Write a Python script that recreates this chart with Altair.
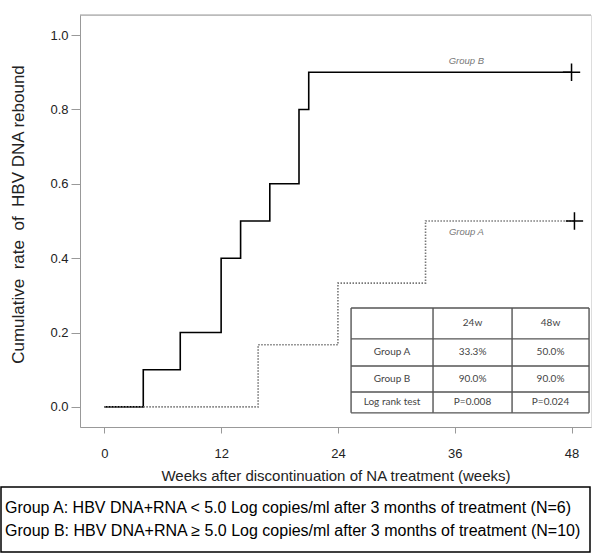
import altair as alt
import pandas as pd

# ---- data ----
weeks_B = [0, 4, 7.8, 12, 14, 17, 20, 21, 48]
rate_B = [0, 0.1, 0.2, 0.4, 0.5, 0.6, 0.8, 0.9, 0.9]
weeks_A = [0, 15.8, 24, 33, 48.3]
rate_A = [0, 0.167, 0.333, 0.5, 0.5]

cens_weeks = [48, 48.3]
cens_rate = [0.9, 0.5]

curve_label_text = ["Group B", "Group A"]
curve_label_week = [37.2, 37.2]
curve_label_rate = [0.93, 0.47]

x_ticks = [0, 12, 24, 36, 48]
y_ticks = [0.0, 0.2, 0.4, 0.6, 0.8, 1.0]

# summary table (in data units of the plot)
table_col_edges = [25.35, 33.77, 41.89, 49.8]
table_row_edges = [0.266, 0.183, 0.110, 0.040, -0.016]
table_col_centers = [29.56, 37.83, 45.84]
table_row_centers = [0.2246, 0.1466, 0.0753, 0.0121]
table_cells = [
    ["", "24w", "48w"],
    ["Group A", "33.3%", "50.0%"],
    ["Group B", "90.0%", "90.0%"],
    ["Log rank test", "P=0.008", "P=0.024"],
]

legend_lines = [
    "Group A: HBV DNA+RNA < 5.0 Log copies/ml after 3 months of treatment (N=6)",
    "Group B: HBV DNA+RNA \u2265 5.0 Log copies/ml after 3 months of treatment (N=10)",
]

x_domain = [-2.5, 50]
y_domain = [-0.054, 1.054]

FONT = "Liberation Sans"
W, H = 511, 412
NB = "\u00a0"

# ---- build tables ----
dfB = pd.DataFrame({"week": weeks_B, "rate": rate_B})
dfA = pd.DataFrame({"week": weeks_A, "rate": rate_A})
dfC = pd.DataFrame({"week": cens_weeks, "rate": cens_rate})
dfL = pd.DataFrame({"week": curve_label_week, "rate": curve_label_rate, "t": curve_label_text})

vlines = pd.DataFrame({"week": table_col_edges, "rate": [table_row_edges[0]] * len(table_col_edges),
                       "rate2": [table_row_edges[-1]] * len(table_col_edges)})
hlines = pd.DataFrame({"rate": table_row_edges, "week": [table_col_edges[0]] * len(table_row_edges),
                       "week2": [table_col_edges[-1]] * len(table_row_edges)})
cells = []
for r, row in enumerate(table_cells):
    for c, txt in enumerate(row):
        cells.append({"week": table_col_centers[c], "rate": table_row_centers[r], "t": txt})
dfCells = pd.DataFrame(cells)

xs = alt.Scale(domain=x_domain, nice=False, zero=False)
ys = alt.Scale(domain=y_domain, nice=False, zero=False)

x_axis = alt.Axis(
    values=x_ticks, format="d", grid=False, tickSize=6, labelPadding=14,
    labelFontSize=13, labelFont=FONT, labelColor="#222",
    title="Weeks after discontinuation of NA treatment (weeks)",
    titleFont=FONT, titleFontSize=15, titleFontWeight="normal", titleColor="#222",
    titleY=48, titleBaseline="middle",
    domainColor="#999", tickColor="#999",
)
y_axis = alt.Axis(
    values=y_ticks, format=".1f", grid=False, tickSize=9, labelPadding=3,
    labelFontSize=13, labelFont=FONT, labelColor="#222",
    title=f"Cumulative{NB}{NB}rate{NB}{NB}of{NB}{NB}HBV DNA rebound",
    titleFont=FONT, titleFontSize=17, titleFontWeight="normal", titleColor="#222",
    titleX=-62, titleY=199, titleAngle=-90, titleBaseline="middle", titleAlign="center",
    domainColor="#999", tickColor="#999",
)

X = alt.X("week:Q", scale=xs, axis=x_axis)
Y = alt.Y("rate:Q", scale=ys, axis=y_axis)

lineB = alt.Chart(dfB).mark_line(interpolate="step-after", color="black", strokeWidth=1.6).encode(x=X, y=Y)
lineA = alt.Chart(dfA).mark_line(interpolate="step-after", color="#777", strokeWidth=1.6,
                                 strokeDash=[1.5, 1.5]).encode(x=X, y=Y)
cens = alt.Chart(dfC).mark_point(shape="M-1,0L1,0M0,-1L0,1", size=300, filled=False,
                                 color="black", strokeWidth=1.5, opacity=1).encode(x=X, y=Y)
labels = alt.Chart(dfL).mark_text(font=FONT, fontSize=9.5, color="#777", fontStyle="italic").encode(
    x=X, y=Y, text="t:N")

tab_v = alt.Chart(vlines).mark_rule(color="#555", strokeWidth=1.4).encode(x=X, y=Y, y2="rate2:Q")
tab_h = alt.Chart(hlines).mark_rule(color="#555", strokeWidth=1.4).encode(y=Y, x=X, x2="week2:Q")
tab_t = alt.Chart(dfCells).mark_text(font="Lato", fontSize=10, color="#444").encode(x=X, y=Y, text="t:N")

one = pd.DataFrame({"a": [0]})
top_rule = alt.Chart(one).mark_rule(color="#999", strokeWidth=1).encode(
    x=alt.value(0), x2=alt.value(W), y=alt.value(0)
)
box = alt.Chart(one).mark_rect(fill="white", stroke="black", strokeWidth=1.5).encode(
    x=alt.value(-79), x2=alt.value(510), y=alt.value(472), y2=alt.value(537)
)
leg1 = alt.Chart(pd.DataFrame({"t": [legend_lines[0]]})).mark_text(
    font=FONT, fontSize=16, color="black", align="left", baseline="middle"
).encode(text="t:N", x=alt.value(-75), y=alt.value(493))
leg2 = alt.Chart(pd.DataFrame({"t": [legend_lines[1]]})).mark_text(
    font=FONT, fontSize=16, color="black", align="left", baseline="middle"
).encode(text="t:N", x=alt.value(-75), y=alt.value(516))

chart = alt.layer(
    lineB, lineA, cens, labels, tab_v, tab_h, tab_t, top_rule, box, leg1, leg2
).properties(
    width=W, height=H,
    autosize=alt.AutoSizeParams(type="none"),
    padding={"left": 80, "top": 15, "right": 1, "bottom": 126},
).configure_view(stroke=None).configure(background="white")

chart.save("out.html", embed_options={"renderer": "svg", "actions": False})
